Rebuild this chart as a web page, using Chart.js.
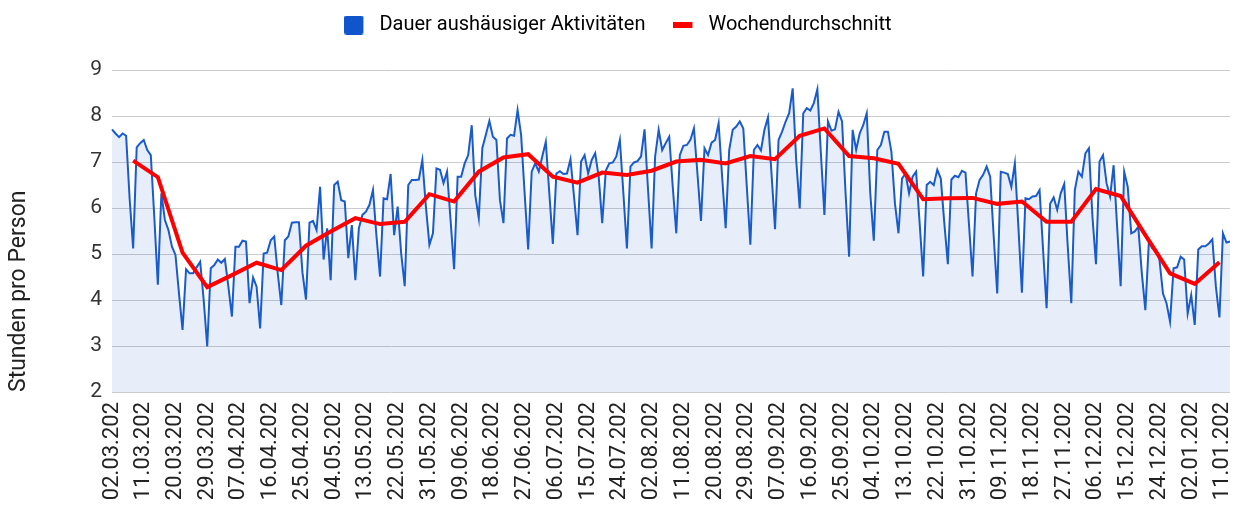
<!DOCTYPE html>
<html>
<head>
<meta charset="utf-8">
<script src="https://cdn.jsdelivr.net/npm/chart.js@4.4.1/dist/chart.umd.min.js"></script>
<style>
  html, body { margin: 0; padding: 0; background: #ffffff; }
  #c { display: block; }
</style>
</head>
<body>
<canvas id="c" width="1236" height="509" style="width:1236px;height:509px"></canvas>
<script>
// ---- data ----
const seriesNames = ['Dauer aushäusiger Aktivitäten', 'Wochendurchschnitt'];
const firstDay = '2020-03-02';
const axisTitle = 'Stunden pro Person';
const yTicks = [2, 3, 4, 5, 6, 7, 8, 9];

// daily values, one row per week (Mon..Sun), starting Monday 02.03.2020
const dailyHours = [
  7.71, 7.62, 7.54, 7.62, 7.57, 6.20, 5.12,
  7.32, 7.41, 7.48, 7.26, 7.15, 5.80, 4.33,
  6.32, 5.74, 5.52, 5.16, 4.98, 4.14, 3.35,
  4.67, 4.58, 4.58, 4.71, 4.83, 4.00, 2.99,
  4.69, 4.76, 4.88, 4.81, 4.89, 4.29, 3.64,
  5.16, 5.16, 5.29, 5.27, 3.93, 4.49, 4.29,
  3.38, 5.01, 5.03, 5.30, 5.38, 4.58, 3.89,
  5.30, 5.38, 5.68, 5.69, 5.69, 4.60, 4.01,
  5.68, 5.72, 5.52, 6.46, 4.88, 5.56, 4.43,
  6.50, 6.57, 6.17, 6.14, 4.91, 5.63, 4.43,
  5.56, 5.85, 5.92, 6.07, 6.39, 5.38, 4.51,
  6.21, 6.19, 6.74, 5.41, 6.03, 5.01, 4.30,
  6.50, 6.61, 6.61, 6.62, 7.04, 6.03, 5.20,
  5.45, 6.86, 6.83, 6.54, 6.79, 5.74, 4.67,
  6.68, 6.68, 6.97, 7.15, 7.80, 6.28, 5.78,
  7.30, 7.59, 7.89, 7.55, 7.48, 6.17, 5.67,
  7.51, 7.59, 7.57, 8.13, 7.59, 6.32, 5.10,
  6.79, 6.97, 6.79, 7.12, 7.44, 6.32, 5.22,
  6.75, 6.80, 6.74, 6.75, 7.06, 6.25, 5.41,
  7.01, 7.15, 6.75, 7.04, 7.19, 6.68, 5.67,
  6.81, 6.97, 6.99, 7.12, 7.48, 6.32, 5.12,
  6.90, 6.99, 7.02, 7.12, 7.71, 6.39, 5.12,
  7.12, 7.70, 7.26, 7.41, 7.55, 6.46, 5.45,
  7.15, 7.35, 7.37, 7.48, 7.73, 6.75, 5.72,
  7.30, 7.15, 7.42, 7.48, 7.84, 6.68, 5.56,
  7.26, 7.70, 7.77, 7.88, 7.73, 6.46, 5.20,
  7.26, 7.37, 7.25, 7.70, 7.97, 6.75, 5.54,
  7.48, 7.66, 7.88, 8.06, 8.60, 7.04, 5.99,
  8.06, 8.17, 8.12, 8.28, 8.58, 7.19, 5.85,
  7.88, 7.68, 7.71, 8.09, 7.88, 6.32, 4.94,
  7.70, 7.26, 7.62, 7.80, 8.06, 6.32, 5.29,
  7.26, 7.37, 7.66, 7.66, 7.22, 6.10, 5.45,
  6.64, 6.75, 6.32, 6.68, 6.79, 5.67, 4.51,
  6.50, 6.57, 6.50, 6.83, 6.64, 5.67, 4.78,
  6.62, 6.70, 6.67, 6.81, 6.77, 5.63, 4.51,
  6.32, 6.61, 6.72, 6.90, 6.68, 5.38, 4.14,
  6.79, 6.77, 6.74, 6.46, 6.97, 5.59, 4.16,
  6.21, 6.19, 6.25, 6.26, 6.39, 5.09, 3.82,
  6.09, 6.23, 5.96, 6.32, 6.52, 5.16, 3.93,
  6.39, 6.79, 6.68, 7.19, 7.30, 5.81, 4.78,
  7.01, 7.15, 6.54, 6.25, 6.93, 5.59, 4.30,
  6.79, 6.46, 5.45, 5.49, 5.59, 4.58, 3.78,
  5.27, 5.12, 5.09, 4.87, 4.14, 3.93, 3.53,
  4.69, 4.71, 4.94, 4.88, 3.71, 4.11, 3.46,
  5.10, 5.17, 5.17, 5.23, 5.32, 4.29, 3.62,
  5.45, 5.25, 5.27
];

// weekly average, plotted on each Sunday (08.03.2020 ... 10.01.2021)
const weeklyAverage = [
  7.03, 6.67, 5.03, 4.28, 4.54, 4.81, 4.65, 5.18, 5.49, 5.78,
  5.65, 5.70, 6.30, 6.14, 6.79, 7.10, 7.17, 6.68, 6.55, 6.77,
  6.72, 6.81, 7.01, 7.05, 6.97, 7.13, 7.06, 7.57, 7.73, 7.13,
  7.08, 6.96, 6.19, 6.21, 6.22, 6.09, 6.14, 5.70, 5.70, 6.41,
  6.26, 5.41, 4.58, 4.35, 4.82
];
const firstWeeklyIndex = 6;   // first Sunday
const tickEvery = 9;          // one date label every 9 days

// ---- build categories ----
const pad2 = n => String(n).padStart(2, '0');
const start = new Date(firstDay + 'T00:00:00Z');
const dayLabels = dailyHours.map((_, i) => {
  const d = new Date(start.getTime() + i * 86400000);
  return pad2(d.getUTCDate()) + '.' + pad2(d.getUTCMonth() + 1) + '.' + d.getUTCFullYear();
});
const weeklySeries = dailyHours.map(() => null);
weeklyAverage.forEach((v, k) => { weeklySeries[firstWeeklyIndex + 7 * k] = v; });

// ---- legend markers ----
function makeMarker(w, h, color, mw, mh, r) {
  const c = document.createElement('canvas');
  c.width = w; c.height = h;
  const g = c.getContext('2d');
  g.fillStyle = color;
  g.beginPath();
  if (g.roundRect) g.roundRect(0, (h - mh) / 2, mw, mh, r); else g.rect(0, (h - mh) / 2, mw, mh);
  g.fill();
  return c;
}
const blueMarker = makeMarker(25, 19, '#1155cc', 19, 19, 2);
const redMarker = makeMarker(25, 6, '#ff0000', 19, 6, 0);

const FONT = 'Roboto';
const LEGEND_BLOCK_HEIGHT = 83;   // legend box height so that the plot starts at y=70

const legendSpacer = {
  id: 'legendSpacer',
  afterInit(chart) {
    const lg = chart.legend;
    if (lg && !lg._spacerPatched) {
      const orig = lg.fit;
      lg.fit = function () { orig.call(this); if (this.options.display) this.height = LEGEND_BLOCK_HEIGHT; };
      lg._spacerPatched = true;
    }
  }
};

new Chart(document.getElementById('c'), {
  type: 'line',
  data: {
    labels: dayLabels,
    datasets: [
      {
        label: seriesNames[0],
        data: dailyHours,
        borderColor: '#1a5bcc',
        borderWidth: 2,
        backgroundColor: 'rgba(17,85,204,0.10)',
        fill: 'start',
        pointRadius: 0,
        tension: 0,
        order: 1
      },
      {
        label: seriesNames[1],
        data: weeklySeries,
        borderColor: '#ff0000',
        borderWidth: 4,
        fill: false,
        pointRadius: 0,
        spanGaps: true,
        tension: 0,
        order: 0
      }
    ]
  },
  plugins: [legendSpacer],
  options: {
    responsive: false,
    animation: false,
    devicePixelRatio: 1,
    layout: { padding: { top: -13, left: 0, right: 0, bottom: 0 } },
    plugins: {
      tooltip: { enabled: false },
      legend: {
        position: 'top',
        align: 'center',
        labels: {
          usePointStyle: true,
          pointStyleWidth: 25,
          boxHeight: 19,
          padding: 28,
          color: '#222222',
          font: { family: FONT, size: 20 },
          generateLabels: () => [
            { text: seriesNames[0], pointStyle: blueMarker, fillStyle: '#1155cc', strokeStyle: '#1155cc', lineWidth: 0, datasetIndex: 0, hidden: false },
            { text: seriesNames[1], pointStyle: redMarker, fillStyle: '#ff0000', strokeStyle: '#ff0000', lineWidth: 0, datasetIndex: 1, hidden: false }
          ]
        }
      }
    },
    scales: {
      x: {
        type: 'category',
        offset: false,
        grid: { display: false, drawTicks: false },
        border: { display: false },
        ticks: {
          autoSkip: false,
          minRotation: 90,
          maxRotation: 90,
          padding: 10,
          color: '#222222',
          font: { family: FONT, size: 22 },
          callback: function (value, index) {
            return index % tickEvery === 0 ? dayLabels[index].slice(0, 9) : null;
          }
        },
        afterFit: (scale) => { scale.height = 117; scale.paddingRight = 6; scale.paddingLeft = 0; }
      },
      y: {
        min: yTicks[0],
        max: yTicks[yTicks.length - 1],
        afterBuildTicks: (scale) => { scale.ticks = yTicks.map(v => ({ value: v })); },
        grid: { color: '#cccccc', lineWidth: 1, drawTicks: false },
        border: { display: false },
        ticks: {
          padding: 10,
          color: '#333333',
          font: { family: FONT, size: 21 }
        },
        title: {
          display: true,
          text: axisTitle,
          align: 'start',
          color: '#222222',
          font: { family: FONT, size: 23 },
          padding: { top: 5, bottom: 0 }
        },
        afterFit: (scale) => { scale.width = 112; }
      }
    }
  }
});
</script>
</body>
</html>
